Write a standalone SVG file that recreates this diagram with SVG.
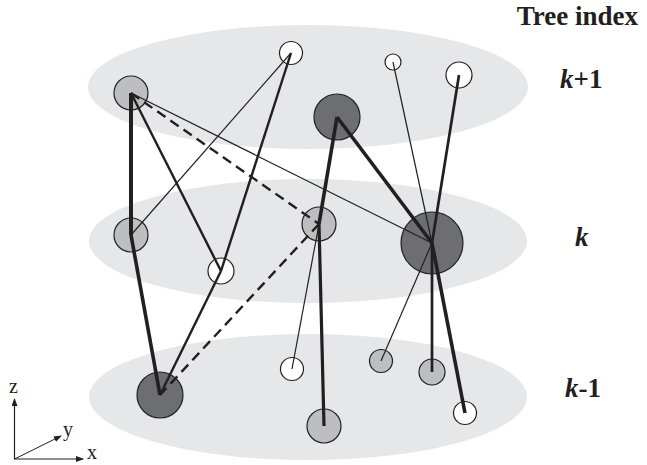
<svg xmlns="http://www.w3.org/2000/svg" width="647" height="465" viewBox="0 0 647 465">
<style>
.layer{fill:#e6e7e8;stroke:none}
.n{stroke:#231f20;stroke-width:1.2}
.w{fill:#ffffff}
.lg{fill:#bcbec0}
.dg{fill:#6d6e71}
.e{stroke:#231f20;fill:none;stroke-linecap:butt}
.thin{stroke-width:1.2}
.med{stroke-width:2.4}
.thick{stroke-width:3.6}
.dash{stroke-width:2.4;stroke-dasharray:10,6}
.lbl{font-family:"Liberation Serif","Times New Roman",serif;font-weight:bold;font-size:27px;fill:#231f20}
.ax{font-family:"Liberation Serif","Times New Roman",serif;font-size:20px;fill:#231f20}
</style>
<defs>
<marker id="arr" markerWidth="8" markerHeight="6" refX="7" refY="3" orient="auto" markerUnits="userSpaceOnUse">
<path d="M0,0 L8,3 L0,6 Z" fill="#231f20"/>
</marker>
</defs>
<g id="layers">
<ellipse class="layer" cx="308" cy="87" rx="220" ry="62"/>
<ellipse class="layer" cx="308" cy="241" rx="219" ry="62"/>
<ellipse class="layer" cx="308" cy="397" rx="219" ry="63"/>
</g>
<g id="nodeA"><circle class="n lg" cx="131" cy="93" r="17"/></g>
<g id="nodeB"><circle class="n w" cx="291" cy="53" r="11.5"/></g>
<g id="nodeC"><circle class="n dg" cx="337" cy="117" r="23"/></g>
<g id="nodeD"><circle class="n w" cx="393" cy="62" r="8"/></g>
<g id="nodeE"><circle class="n w" cx="459" cy="75" r="13"/></g>
<g id="nodeF"><circle class="n lg" cx="131" cy="235" r="17"/></g>
<g id="nodeG"><circle class="n w" cx="221" cy="271" r="13"/></g>
<g id="nodeH"><circle class="n lg" cx="319" cy="224" r="17"/></g>
<g id="nodeI"><circle class="n dg" cx="432" cy="243" r="31"/></g>
<g id="nodeJ"><circle class="n dg" cx="160" cy="395" r="23"/></g>
<g id="nodeK"><circle class="n w" cx="292" cy="369" r="11.5"/></g>
<g id="nodeL"><circle class="n lg" cx="324" cy="426" r="17"/></g>
<g id="nodeM"><circle class="n lg" cx="381" cy="361" r="11.5"/></g>
<g id="nodeN"><circle class="n lg" cx="432" cy="372" r="13"/></g>
<g id="nodeO"><circle class="n w" cx="465" cy="413" r="11.5"/></g>
<g id="connectors">
<line class="e thick" x1="131" y1="93" x2="131" y2="235" style="stroke-width:4"/>
<line class="e thick" x1="131" y1="235" x2="160" y2="395"/>
<line class="e med" x1="131" y1="93" x2="221" y2="271"/>
<line class="e thin" x1="131" y1="93" x2="432" y2="243"/>
<line class="e dash" x1="131" y1="93" x2="319" y2="224"/>
<line class="e dash" x1="319" y1="224" x2="160" y2="395"/>
<line class="e thin" x1="291" y1="53" x2="131" y2="235"/>
<line class="e med" x1="291" y1="53" x2="221" y2="271"/>
<line class="e med" x1="221" y1="271" x2="160" y2="395"/>
<line class="e thick" x1="337" y1="117" x2="432" y2="243"/>
<line class="e thick" x1="337" y1="117" x2="319" y2="224"/>
<line class="e thick" x1="319" y1="224" x2="324" y2="426" style="stroke-width:3.2"/>
<line class="e thin" x1="393" y1="62" x2="432" y2="243"/>
<line class="e med" x1="459" y1="75" x2="432" y2="243" style="stroke-width:2.7"/>
<line class="e med" x1="432" y1="243" x2="432" y2="372" style="stroke-width:2.7"/>
<line class="e thick" x1="432" y1="243" x2="465" y2="413"/>
<line class="e thin" x1="432" y1="243" x2="381" y2="361"/>
<line class="e thin" x1="319" y1="224" x2="292" y2="369"/>
</g>
<g id="axes">
<line x1="14.5" y1="459" x2="14.5" y2="399" stroke="#231f20" stroke-width="1.2" marker-end="url(#arr)"/>
<line x1="14" y1="459" x2="83" y2="459" stroke="#231f20" stroke-width="1.2" marker-end="url(#arr)"/>
<line x1="14.5" y1="459" x2="61" y2="436" stroke="#231f20" stroke-width="1" marker-end="url(#arr)"/>
<text class="ax" x="9" y="393">z</text>
<text class="ax" x="63" y="436">y</text>
<text class="ax" x="87" y="459">x</text>
</g>
<g id="labels">
<text class="lbl" x="638" y="25" text-anchor="end">Tree index</text>
<text class="lbl" x="560" y="88"><tspan font-style="italic">k</tspan>+1</text>
<text class="lbl" x="575" y="246"><tspan font-style="italic">k</tspan></text>
<text class="lbl" x="565" y="397"><tspan font-style="italic">k</tspan>-1</text>
</g>
</svg>
